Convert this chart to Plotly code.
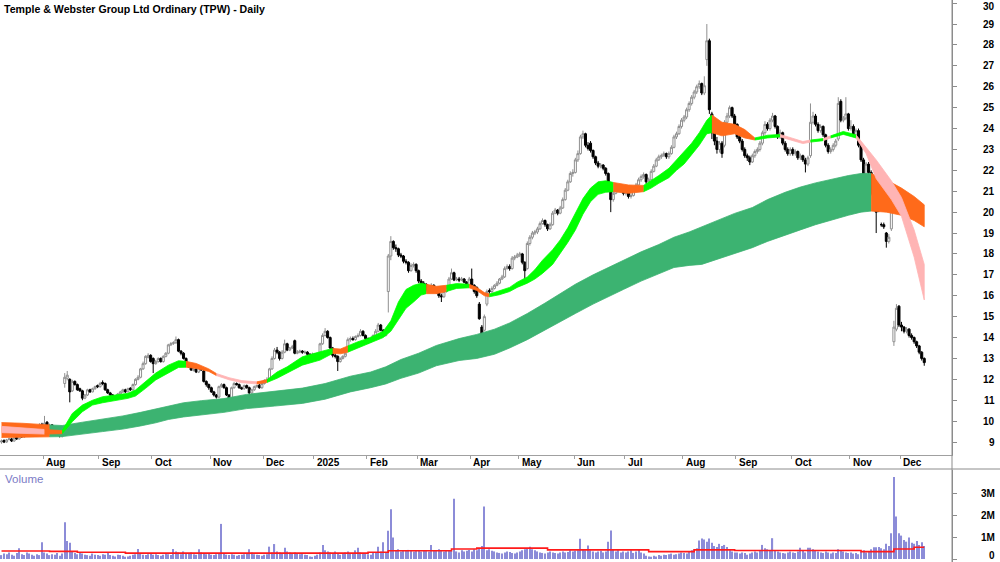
import pandas as pd
import plotly.graph_objects as go

TITLE = "Temple &amp; Webster Group Ltd Ordinary (TPW) - Daily"

HOLIDAYS = ["2024-12-25", "2024-12-26", "2025-01-01", "2025-01-27",
            "2025-04-18", "2025-04-21", "2025-04-25", "2025-06-09"]
FIRST_DAY = "2024-07-09"
LAST_DAY = "2025-12-12"

OPEN = [
    9.00, 9.08, 9.00, 9.12, 9.15, 9.05, 9.22, 9.15, 9.32, 9.25, 9.35, 9.48, 9.40, 9.62, 9.55, 9.70, 9.85,
    9.75, 9.95, 9.70, 9.82, 9.60, 9.58, 9.45, 9.28, 11.80, 12.05, 12.00, 11.45, 11.90, 11.75, 11.55, 11.45, 11.10, 11.25, 11.50, 11.40, 11.55, 11.70,
    11.65, 11.85, 11.80, 11.50, 11.35, 11.25, 11.18, 11.10, 11.30, 11.40, 11.50, 11.40, 11.58, 11.50, 11.75, 12.00, 12.10, 12.50, 12.75, 13.05, 13.15,
    13.00, 12.75, 12.85, 13.00, 12.85, 13.10, 13.25, 13.65, 13.72, 13.75, 13.90, 13.35, 13.25, 13.00, 12.75, 12.60, 12.42, 12.50, 12.35, 12.55, 12.40, 11.90, 11.75,
    11.60, 11.40, 11.25, 11.15, 11.65, 11.75, 11.60, 11.25, 11.10, 11.60, 11.80, 11.75, 11.60, 11.55, 11.70, 11.60, 11.35, 11.50, 11.65, 11.72, 11.60,
    11.80, 11.95, 12.00, 12.50, 13.00, 13.40, 13.30, 13.00, 13.30, 13.70, 13.40, 13.50, 13.85, 13.25, 13.30, 13.35, 13.28, 13.30, 13.20, 13.15,
    13.20, 13.10, 13.20, 13.70, 14.10, 14.30, 14.00, 13.50, 13.15, 13.10, 12.85, 13.00, 13.10, 13.40, 13.90, 13.95, 13.90, 14.05, 14.10, 14.30, 14.10,
    13.95, 13.80, 13.95, 14.10, 14.30, 14.60, 14.35, 14.10, 16.20, 17.90, 18.60, 18.30, 18.25, 17.95, 17.90, 17.65, 17.60, 17.20, 17.45, 17.50,
    17.20, 16.70, 16.60, 16.55, 16.30, 16.35, 16.50, 16.25, 16.20, 16.00, 15.95, 16.20, 16.40, 16.80, 17.10, 16.75, 16.80, 16.75, 16.80, 16.65, 16.50,
    16.80, 16.50, 16.40, 15.60, 14.50, 14.35, 15.60, 16.25, 16.20, 16.35, 16.50, 16.60, 16.80, 16.90, 17.30, 17.40, 17.30, 17.80, 17.85,
    17.95, 18.00, 17.60, 17.30, 18.50, 18.80, 19.00, 19.05, 19.20, 19.45, 19.60, 19.40, 19.20, 19.40, 19.95, 20.10, 19.95, 20.20, 20.60, 21.05, 21.45, 21.85,
    21.90, 22.50, 22.80, 23.60, 23.75, 23.20, 23.30, 22.95, 22.65, 22.35, 22.20, 22.25, 22.10, 21.85, 21.40, 20.60, 20.90, 21.05, 21.20, 21.15,
    20.90, 21.05, 20.75, 20.80, 21.15, 21.30, 21.55, 21.70, 21.80, 21.45, 21.55, 21.95, 22.20, 22.50, 22.65, 22.70, 22.80, 22.65, 22.80, 23.10, 23.60, 23.75, 24.10,
    24.40, 24.55, 24.90, 25.20, 25.50, 25.75, 26.00, 26.15, 25.70, 27.30, 28.20, 24.70, 23.80, 23.40, 23.00, 23.30, 23.20, 24.30, 24.60, 25.00, 24.60,
    24.20, 23.60, 23.40, 23.00, 22.70, 22.60, 22.40, 22.70, 22.90, 23.00, 23.30, 23.80, 24.20, 24.00, 24.40, 24.60, 24.10, 23.60, 23.80, 23.30, 23.00, 22.80,
    23.00, 22.80, 22.90, 22.60, 22.70, 22.50, 22.30, 22.70, 24.30, 24.60, 24.20, 23.90, 24.10, 23.70, 23.20, 22.90, 23.00, 23.20, 23.50, 25.30, 24.40, 24.50, 24.70,
    24.00, 24.10, 23.70, 23.90, 23.20, 22.50, 21.80, 22.30, 21.90, 20.90, 20.20, 20.90, 19.40, 19.40, 19.00, 18.60, 19.20, 13.80, 14.40, 15.50,
    14.60, 14.50, 14.30, 14.40, 14.10, 14.00, 13.80, 13.60, 13.30, 13.00,
]

HIGH = [
    9.12, 9.12, 9.15, 9.22, 9.20, 9.25, 9.28, 9.35, 9.38, 9.40, 9.50, 9.52, 9.66, 9.68, 9.75, 9.90, 9.92,
    10.25, 10.00, 9.88, 9.86, 9.68, 9.62, 9.50, 9.45, 12.30, 12.40, 12.05, 11.98, 11.95, 11.80, 11.60, 11.50, 11.30, 11.55, 11.55, 11.60, 11.70, 11.75,
    11.88, 11.95, 11.85, 11.55, 11.40, 11.30, 11.22, 11.35, 11.45, 11.55, 11.55, 11.60, 11.62, 11.80, 12.05, 12.20, 12.55, 12.85, 13.15, 13.25, 13.20,
    13.05, 12.92, 13.05, 13.05, 13.15, 13.30, 13.70, 13.78, 13.82, 14.05, 13.95, 13.40, 13.30, 13.05, 12.80, 12.65, 12.55, 12.55, 12.60, 12.60, 12.45, 11.95, 11.80,
    11.65, 11.45, 11.30, 11.70, 11.82, 11.80, 11.65, 11.30, 11.65, 11.88, 11.85, 11.80, 11.65, 11.75, 11.75, 11.65, 11.55, 11.70, 11.75, 11.78, 11.85,
    12.00, 12.10, 12.55, 13.10, 13.50, 13.55, 13.35, 13.40, 13.90, 13.75, 13.55, 13.65, 13.90, 13.40, 13.42, 13.40, 13.38, 13.35, 13.25, 13.28,
    13.25, 13.25, 13.75, 14.20, 14.45, 14.35, 14.05, 13.55, 13.25, 13.15, 13.05, 13.15, 13.30, 14.00, 14.05, 14.05, 14.10, 14.20, 14.40, 14.35, 14.15,
    14.00, 14.00, 14.15, 14.40, 14.70, 14.65, 14.40, 14.40, 18.00, 18.85, 18.65, 18.45, 18.30, 18.05, 17.95, 17.75, 17.65, 17.55, 17.60, 17.55,
    17.25, 16.80, 16.70, 16.60, 16.45, 16.60, 16.55, 16.35, 16.25, 16.10, 16.25, 16.45, 16.90, 17.30, 17.15, 16.90, 16.90, 16.90, 16.85, 16.70, 16.90,
    17.30, 16.55, 16.45, 15.70, 14.60, 15.10, 16.30, 16.35, 16.45, 16.55, 16.70, 16.85, 17.00, 17.40, 17.50, 17.50, 17.90, 17.95, 18.05,
    18.10, 18.05, 17.65, 18.60, 18.90, 19.10, 19.15, 19.30, 19.55, 19.70, 19.65, 19.45, 19.50, 20.05, 20.20, 20.15, 20.30, 20.70, 21.15, 21.55, 21.95, 22.05,
    22.60, 22.95, 23.70, 23.90, 23.80, 23.35, 23.40, 23.00, 22.70, 22.45, 22.35, 22.30, 22.15, 21.90, 21.45, 21.00, 21.15, 21.30, 21.30, 21.20,
    21.15, 21.10, 20.90, 21.25, 21.40, 21.65, 21.80, 21.90, 21.85, 21.65, 22.05, 22.30, 22.60, 22.75, 22.80, 22.90, 22.85, 22.90, 23.20, 23.70, 23.85, 24.20, 24.50,
    24.65, 25.00, 25.30, 25.60, 25.85, 26.10, 26.30, 26.20, 26.50, 29.00, 28.30, 24.80, 24.00, 23.60, 23.40, 23.40, 24.40, 24.75, 25.10, 25.05, 24.70,
    24.25, 23.75, 23.50, 23.10, 22.80, 22.70, 22.80, 23.00, 23.10, 23.40, 23.90, 24.35, 24.30, 24.50, 24.75, 24.65, 24.15, 23.95, 23.85, 23.40, 23.10, 23.10,
    23.10, 23.00, 22.95, 22.80, 22.75, 22.60, 22.70, 25.20, 24.80, 24.70, 24.30, 24.20, 24.15, 23.75, 23.30, 23.10, 23.30, 23.50, 25.50, 25.40, 24.60, 25.50, 24.75,
    24.40, 24.20, 24.00, 24.00, 23.30, 22.60, 22.40, 22.40, 22.00, 21.00, 20.70, 20.95, 19.50, 19.50, 19.05, 18.95, 20.40, 14.80, 15.60, 15.55,
    14.75, 14.55, 14.50, 14.45, 14.20, 14.05, 13.85, 13.65, 13.35, 13.05,
]

LOW = [
    8.92, 8.95, 8.97, 9.08, 9.00, 9.02, 9.10, 9.12, 9.20, 9.20, 9.30, 9.35, 9.36, 9.50, 9.50, 9.65, 9.70,
    9.70, 9.70, 9.65, 9.55, 9.48, 9.40, 9.22, 9.22, 11.60, 11.95, 10.90, 11.40, 11.70, 11.45, 11.40, 11.00, 11.05, 11.20, 11.35, 11.38, 11.50, 11.58,
    11.60, 11.72, 11.45, 11.30, 11.20, 11.10, 11.02, 11.05, 11.25, 11.35, 11.35, 11.38, 11.45, 11.45, 11.70, 11.95, 12.05, 12.45, 12.70, 13.00, 12.80,
    12.30, 12.70, 12.80, 12.80, 12.80, 13.05, 13.20, 13.60, 13.65, 13.70, 13.30, 13.15, 12.95, 12.70, 12.55, 12.40, 12.38, 12.30, 12.30, 12.40, 11.85, 11.65, 11.50,
    11.35, 11.18, 11.08, 11.10, 11.60, 11.55, 11.20, 10.95, 11.05, 11.55, 11.70, 11.55, 11.50, 11.50, 11.55, 11.25, 11.30, 11.45, 11.60, 11.55, 11.55,
    11.75, 11.90, 11.95, 12.45, 12.95, 13.20, 12.90, 12.95, 13.25, 13.35, 13.35, 13.45, 13.20, 13.20, 13.25, 13.22, 13.22, 13.12, 13.08, 13.10,
    13.02, 13.05, 13.15, 13.65, 14.05, 13.95, 13.45, 13.05, 13.00, 12.40, 12.80, 12.95, 13.05, 13.35, 13.80, 13.85, 13.85, 14.00, 14.05, 14.05, 13.85,
    13.70, 13.75, 13.90, 14.05, 14.25, 14.30, 14.05, 14.05, 15.20, 17.70, 18.20, 18.10, 17.85, 17.80, 17.55, 17.50, 17.10, 17.15, 17.35, 17.10,
    16.60, 16.50, 16.45, 16.20, 16.25, 16.30, 16.15, 16.10, 15.90, 15.70, 15.90, 16.15, 16.35, 16.75, 16.70, 16.70, 16.65, 16.70, 16.60, 16.40, 16.45,
    16.40, 16.10, 15.90, 14.85, 13.95, 14.30, 15.50, 16.10, 16.10, 16.30, 16.45, 16.55, 16.75, 16.85, 17.25, 17.20, 17.25, 17.70, 17.80,
    17.85, 17.50, 16.80, 17.25, 18.40, 18.70, 18.90, 18.95, 19.15, 19.40, 19.30, 19.10, 19.15, 19.35, 19.90, 19.85, 19.90, 20.15, 20.55, 21.00, 21.40, 21.70,
    21.85, 22.40, 22.75, 23.50, 23.10, 22.95, 22.85, 22.55, 22.25, 22.10, 22.10, 22.00, 21.75, 21.30, 20.00, 20.50, 20.85, 21.00, 21.05, 20.80,
    20.80, 20.65, 20.65, 20.75, 21.05, 21.25, 21.45, 21.60, 21.35, 21.40, 21.50, 21.90, 22.15, 22.45, 22.55, 22.65, 22.55, 22.55, 22.75, 23.05, 23.50, 23.70, 24.00,
    24.30, 24.45, 24.80, 25.10, 25.40, 25.65, 25.90, 25.60, 25.60, 27.00, 24.70, 23.50, 23.20, 22.80, 22.85, 22.60, 23.10, 24.20, 24.50, 24.50, 24.10,
    23.50, 23.30, 22.90, 22.60, 22.45, 22.25, 22.35, 22.60, 22.80, 22.90, 23.20, 23.70, 23.90, 23.90, 24.30, 24.00, 23.50, 23.50, 23.20, 22.90, 22.70, 22.70,
    22.70, 22.70, 22.50, 22.50, 22.40, 21.90, 22.20, 22.60, 24.20, 24.10, 23.80, 23.80, 23.60, 23.10, 22.80, 22.80, 22.90, 23.10, 23.40, 24.30, 24.30, 24.40, 23.90,
    23.90, 23.60, 23.60, 23.10, 22.40, 21.70, 21.70, 21.80, 20.80, 20.10, 19.00, 20.00, 19.30, 19.20, 18.30, 18.50, 19.10, 13.60, 14.30, 14.50,
    14.30, 14.20, 14.20, 14.00, 13.90, 13.70, 13.50, 13.20, 12.90, 12.65,
]

CLOSE = [
    9.05, 9.00, 9.10, 9.15, 9.05, 9.20, 9.15, 9.30, 9.25, 9.35, 9.45, 9.40, 9.60, 9.55, 9.70, 9.80, 9.75,
    9.90, 9.75, 9.80, 9.60, 9.55, 9.45, 9.30, 9.40, 12.10, 12.20, 11.40, 11.90, 11.75, 11.50, 11.45, 11.10, 11.25, 11.50, 11.40, 11.55, 11.65, 11.65,
    11.80, 11.80, 11.50, 11.35, 11.25, 11.15, 11.10, 11.30, 11.40, 11.50, 11.40, 11.55, 11.50, 11.75, 12.00, 12.10, 12.50, 12.75, 13.10, 13.15, 12.85,
    12.75, 12.85, 13.00, 12.85, 13.10, 13.25, 13.65, 13.70, 13.75, 13.90, 13.35, 13.25, 13.00, 12.75, 12.60, 12.45, 12.50, 12.35, 12.55, 12.45, 11.90, 11.75, 11.60,
    11.40, 11.25, 11.15, 11.65, 11.75, 11.60, 11.25, 11.10, 11.60, 11.80, 11.75, 11.60, 11.55, 11.70, 11.60, 11.35, 11.50, 11.65, 11.70, 11.60, 11.80,
    11.95, 12.00, 12.50, 13.00, 13.40, 13.30, 13.00, 13.30, 13.70, 13.40, 13.50, 13.55, 13.25, 13.30, 13.35, 13.30, 13.30, 13.20, 13.15, 13.20,
    13.10, 13.20, 13.70, 14.10, 14.30, 14.00, 13.50, 13.15, 13.10, 12.85, 13.00, 13.10, 13.25, 13.90, 13.95, 13.90, 14.05, 14.10, 14.30, 14.10, 13.95,
    13.80, 13.95, 14.10, 14.30, 14.60, 14.35, 14.10, 14.30, 17.90, 18.60, 18.30, 18.25, 17.95, 17.90, 17.65, 17.60, 17.20, 17.45, 17.50, 17.20,
    16.70, 16.60, 16.55, 16.30, 16.35, 16.50, 16.25, 16.20, 16.00, 15.95, 16.20, 16.40, 16.80, 17.10, 16.75, 16.80, 16.75, 16.80, 16.65, 16.50, 16.80,
    16.50, 16.20, 16.00, 14.90, 14.10, 15.00, 16.20, 16.20, 16.35, 16.50, 16.60, 16.80, 16.90, 17.30, 17.40, 17.30, 17.80, 17.85, 17.95,
    18.00, 17.60, 17.20, 18.50, 18.80, 19.00, 19.05, 19.20, 19.45, 19.60, 19.40, 19.20, 19.40, 19.95, 20.10, 19.95, 20.20, 20.60, 21.05, 21.45, 21.85, 21.90,
    22.50, 22.80, 23.60, 23.75, 23.20, 23.05, 22.95, 22.65, 22.35, 22.20, 22.25, 22.10, 21.85, 21.40, 20.60, 20.90, 21.05, 21.20, 21.15, 20.90,
    21.05, 20.75, 20.80, 21.15, 21.30, 21.55, 21.70, 21.80, 21.45, 21.55, 21.95, 22.20, 22.50, 22.65, 22.70, 22.80, 22.65, 22.80, 23.10, 23.60, 23.75, 24.10, 24.40,
    24.55, 24.90, 25.20, 25.50, 25.75, 26.00, 26.15, 25.70, 26.05, 28.20, 24.90, 23.80, 23.40, 23.00, 23.30, 22.80, 24.30, 24.60, 25.00, 24.60, 24.20,
    23.60, 23.40, 23.00, 22.70, 22.60, 22.40, 22.70, 22.90, 23.00, 23.30, 23.80, 24.20, 24.00, 24.40, 24.60, 24.10, 23.60, 23.80, 23.30, 23.00, 22.80, 23.00,
    22.80, 22.90, 22.60, 22.70, 22.50, 22.30, 22.60, 24.30, 24.60, 24.20, 23.90, 24.10, 23.70, 23.20, 22.90, 23.00, 23.20, 23.40, 25.20, 24.40, 24.50, 24.70, 24.00,
    24.10, 23.70, 23.90, 23.20, 22.50, 21.80, 22.30, 21.90, 20.90, 20.20, 20.00, 20.60, 19.40, 19.30, 18.60, 18.80, 20.20, 14.50, 15.40, 14.60,
    14.50, 14.30, 14.40, 14.10, 14.00, 13.80, 13.60, 13.30, 13.00, 12.80,
]

# volume in millions of shares
VOLUME = [
    0.18, 0.25, 0.22, 0.30, 0.20, 0.15, 0.28, 0.50, 0.22, 0.18, 0.30, 0.25, 0.20, 0.15, 0.22, 0.18, 0.77,
    0.30, 0.25, 0.18, 0.22, 0.20, 0.28, 0.15, 0.25, 1.70, 0.83, 0.75, 0.35, 0.28, 0.22, 0.30, 0.25, 0.20, 0.18, 0.15, 0.25, 0.20, 0.18,
    0.15, 0.22, 0.20, 0.28, 0.18, 0.15, 0.12, 0.20, 0.18, 0.15, 0.10, 0.12, 0.15, 0.20, 0.22, 0.46, 0.25, 0.20, 0.18, 0.22, 0.25,
    0.20, 0.22, 0.18, 0.15, 0.20, 0.25, 0.22, 0.18, 0.46, 0.35, 0.30, 0.22, 0.35, 0.28, 0.25, 0.30, 0.22, 0.20, 0.45, 0.30, 0.28, 0.22, 0.25,
    0.20, 0.18, 0.22, 0.25, 1.62, 0.25, 0.20, 0.18, 0.22, 0.20, 0.15, 0.18, 0.20, 0.22, 0.25, 0.45, 0.30, 0.22, 0.20, 0.18, 0.15,
    0.20, 0.22, 0.57, 0.30, 0.69, 0.35, 0.30, 0.28, 0.52, 0.35, 0.30, 0.25, 0.30, 0.28, 0.22, 0.25, 0.20, 0.18, 0.12, 0.10,
    0.15, 0.20, 0.30, 0.65, 0.40, 0.35, 0.30, 0.28, 0.35, 0.25, 0.20, 0.25, 0.30, 0.35, 0.28, 0.25, 0.40, 0.52, 0.30, 0.28, 0.25,
    0.22, 0.20, 0.28, 0.30, 0.57, 0.35, 0.77, 0.30, 1.30, 2.30, 0.99, 0.40, 0.45, 0.35, 0.40, 0.38, 0.42, 0.40, 0.35, 0.38,
    0.40, 0.35, 0.42, 0.38, 0.35, 0.65, 0.40, 0.38, 0.45, 0.40, 0.35, 0.38, 0.42, 0.40, 2.78, 0.35, 0.30, 0.40, 0.35, 0.38, 0.42,
    0.35, 0.45, 0.40, 0.50, 0.60, 2.42, 0.40, 0.45, 0.38, 0.35, 0.30, 0.28, 0.25, 0.30, 0.35, 0.32, 0.28, 0.25, 0.30,
    0.35, 0.40, 0.45, 0.50, 0.57, 0.45, 0.40, 0.35, 0.30, 0.28, 0.25, 0.30, 0.35, 0.30, 0.28, 0.25, 0.30, 0.35, 0.30, 0.32, 0.40, 0.35,
    0.38, 0.40, 0.93, 0.45, 0.40, 0.62, 0.40, 0.35, 0.30, 0.35, 0.38, 0.30, 0.35, 0.80, 1.31, 0.45, 0.35, 0.40, 0.30, 0.35,
    0.30, 0.35, 0.40, 0.28, 0.35, 0.45, 0.30, 0.25, 0.15, 0.12, 0.10, 0.15, 0.12, 0.18, 0.15, 0.20, 0.18, 0.22, 0.25, 0.20, 0.22, 0.25, 0.30,
    0.28, 0.25, 0.35, 0.40, 0.45, 0.50, 0.85, 0.95, 0.90, 0.80, 0.95, 0.75, 0.60, 0.55, 0.70, 0.60, 0.65, 0.55, 0.40, 0.35, 0.30,
    0.30, 0.25, 0.30, 0.28, 0.20, 0.25, 0.30, 0.35, 0.30, 0.40, 0.65, 0.50, 0.45, 0.40, 0.96, 0.40, 0.35, 0.30, 0.28, 0.25, 0.30, 0.35,
    0.30, 0.28, 0.35, 0.52, 0.40, 0.30, 0.52, 0.52, 0.45, 0.40, 0.35, 0.30, 0.28, 0.35, 0.30, 0.25, 0.30, 0.28, 0.45, 0.40, 0.35, 0.30, 0.28,
    0.30, 0.25, 0.28, 0.22, 0.35, 0.40, 0.30, 0.35, 0.45, 0.54, 0.54, 0.55, 0.50, 0.45, 0.70, 0.60, 1.19, 3.78, 1.96, 1.19,
    1.08, 0.88, 0.80, 0.99, 0.75, 0.70, 0.83, 0.65, 0.77, 0.60,
]

# volume average line: (start index, level in millions)
VOL_MA_IDX = [0, 19, 30, 49, 145, 153, 178, 188, 216, 256, 274, 290, 340, 353, 361, 365]
VOL_MA_VAL = [0.37, 0.35, 0.31, 0.27, 0.31, 0.38, 0.46, 0.50, 0.42, 0.34, 0.42, 0.39, 0.34, 0.46, 0.54, 0.54]

# short-term ribbon: trading-day index, lower edge, upper edge, colour code of the stretch that follows
S_IDX = [0, 10, 17, 24, 28, 32, 36, 40, 45, 50, 53, 57, 61, 66, 70, 73, 77, 82, 85, 90, 95, 101, 105, 109,
         113, 119, 126, 131, 134, 137, 141, 145, 151, 154, 157, 160, 163, 166, 168, 172, 176, 180, 185, 188,
         191, 193, 197, 201, 204, 208, 211, 214, 218, 221, 224, 227, 230, 233, 236, 239, 242, 248, 254, 257,
         260, 264, 267, 270, 273, 276, 279, 281, 285, 290, 294, 298, 303, 308, 313, 317, 320, 325, 328, 333,
         338, 342, 346, 352, 356, 361, 365]
S_LO = [9.45, 9.40, 9.38, 9.40, 9.97, 10.45, 10.77, 10.88, 11.00, 11.09, 11.20, 11.57, 11.97, 12.30, 12.57,
        12.58, 12.52, 12.38, 12.18, 11.98, 11.84, 11.78, 11.85, 12.05, 12.29, 12.68, 12.92, 13.24, 13.22, 13.30,
        13.50, 13.72, 14.00, 14.30, 14.85, 15.40, 15.70, 16.03, 16.10, 16.10, 16.20, 16.35, 16.38, 16.25, 16.00,
        15.95, 16.05, 16.20, 16.40, 16.60, 16.80, 17.07, 17.50, 18.03, 18.55, 19.14, 19.90, 20.50, 20.85, 20.95,
        20.98, 20.90, 20.98, 21.15, 21.38, 21.65, 22.00, 22.30, 22.75, 23.20, 23.75, 23.80, 23.65, 23.75, 23.55,
        23.45, 23.55, 23.60, 23.42, 23.28, 23.35, 23.42, 23.55, 23.72, 23.55, 22.80, 21.60, 20.60, 19.80, 17.85,
        15.80]
S_HI = [9.75, 9.65, 9.60, 9.55, 10.37, 10.77, 11.00, 11.17, 11.25, 11.33, 11.49, 11.90, 12.30, 12.68, 12.89,
        12.86, 12.76, 12.50, 12.28, 12.08, 11.94, 11.88, 11.98, 12.35, 12.60, 13.08, 13.32, 13.48, 13.45, 13.60,
        13.80, 13.96, 14.30, 14.80, 15.70, 16.30, 16.50, 16.60, 16.55, 16.45, 16.50, 16.58, 16.55, 16.40, 16.15,
        16.08, 16.25, 16.40, 16.65, 16.90, 17.25, 17.70, 18.20, 18.67, 19.25, 19.94, 20.65, 21.15, 21.45, 21.50,
        21.42, 21.30, 21.28, 21.50, 21.75, 22.10, 22.50, 22.85, 23.30, 23.80, 24.40, 24.65, 24.30, 24.20, 23.95,
        23.55, 23.68, 23.72, 23.52, 23.38, 23.45, 23.52, 23.65, 23.86, 23.70, 23.10, 22.50, 21.50, 20.70, 19.15,
        17.50]
S_COL = ["p", "p", "o", "g", "g", "g", "g", "g", "g", "g", "g", "g", "g", "g", "g", "o", "o", "o", "p", "p",
         "p", "o", "g", "g", "g", "g", "g", "o", "o", "g", "g", "g", "g", "g", "g", "g", "g", "g", "o", "o",
         "g", "g", "o", "o", "o", "g", "g", "g", "g", "g", "g", "g", "g", "g", "g", "g", "g", "g", "g", "g",
         "o", "o", "g", "g", "g", "g", "g", "g", "g", "g", "g", "o", "o", "o", "o", "g", "g", "p", "p", "p",
         "g", "p", "g", "g", "p", "p", "p", "p", "p", "p", "p"]

# long-term ribbon
L_IDX = [0, 8, 19, 24, 32, 40, 48, 55, 61, 66, 72, 79, 88, 97, 108, 119, 128, 138, 146, 152, 158, 165, 172,
         181, 188, 195, 201, 208, 215, 221, 227, 234, 240, 246, 253, 260, 266, 272, 277, 283, 290, 297, 303,
         310, 316, 322, 329, 335, 340, 344, 350, 356, 361, 365]
L_LO = [9.22, 9.23, 9.25, 9.26, 9.38, 9.50, 9.62, 9.77, 9.92, 10.08, 10.20, 10.30, 10.42, 10.60, 10.72, 10.85,
        11.05, 11.40, 11.60, 11.78, 12.05, 12.30, 12.65, 12.90, 13.00, 13.20, 13.50, 13.90, 14.35, 14.75, 15.15,
        15.60, 15.95, 16.30, 16.70, 17.05, 17.35, 17.45, 17.50, 17.75, 18.03, 18.30, 18.60, 18.90, 19.15, 19.40,
        19.65, 19.85, 20.00, 20.05, 20.00, 19.85, 19.60, 19.30]
L_HI = [9.93, 9.90, 9.82, 9.79, 9.95, 10.10, 10.25, 10.42, 10.58, 10.75, 10.88, 10.98, 11.08, 11.28, 11.42,
        11.58, 11.80, 12.15, 12.35, 12.60, 12.95, 13.25, 13.62, 13.95, 14.15, 14.40, 14.70, 15.15, 15.65, 16.10,
        16.55, 17.00, 17.35, 17.70, 18.10, 18.45, 18.80, 19.05, 19.30, 19.62, 19.94, 20.22, 20.60, 20.95, 21.20,
        21.40, 21.60, 21.75, 21.85, 21.85, 21.55, 21.15, 20.75, 20.35]
L_COL = ["o", "o"] + ["g"] * 47 + ["o"] * 5

PRICE_TICKS = list(range(9, 31))
VOL_TICKS = [0, 1, 2, 3]
VOL_TICK_TEXT = ["0", "1M", "2M", "3M"]

COLORS = {"g": "#00ff00", "o": "#ff6a1a", "p": "#ffb4b4"}
LONG_COLORS = {"g": "#3cb371", "o": "#ff6a1a", "p": "#ffb4b4"}

# ---------------------------------------------------------------------------
dates = pd.bdate_range(FIRST_DAY, LAST_DAY)
dates = dates[~dates.isin(pd.to_datetime(HOLIDAYS))]
n = len(dates)
assert n == len(CLOSE) == len(OPEN) == len(HIGH) == len(LOW) == len(VOLUME)
idx = list(range(n))

month_starts = [i for i in range(1, n) if dates[i].month != dates[i - 1].month]
month_labels = ["2025" if dates[i].month == 1 else dates[i].strftime("%b") for i in month_starts]

W, H = 1000, 562
PLOT_R = 952
X0 = -0.6
X1 = X0 + PLOT_R / 2.528
PRICE_BOTTOM = 455
BAND_BOTTOM = 469
VOL_TOP = 470
P_TOP, P_BOT = 30.15, 8.38
V_LO, V_HI = -0.138, 4.107
FONT = "Liberation Sans, Arial"


def py(ypx):
    return 1 - ypx / H


def price_px(p):
    return (P_TOP - p) / (P_TOP - P_BOT) * PRICE_BOTTOM


fig = go.Figure()


def segments(keys, cols):
    segs = []
    s = 0
    for k in range(1, len(keys)):
        if cols[k] != cols[s]:
            segs.append((s, k, cols[s]))
            s = k
    segs.append((s, len(keys) - 1, cols[s]))
    return segs


def draw_ribbon(keys, lo, hi, cols, palette):
    for s, e, c in segments(keys, cols):
        xs = keys[s:e + 1] + keys[s:e + 1][::-1]
        ys = hi[s:e + 1] + lo[s:e + 1][::-1]
        col = palette[c]
        fig.add_trace(go.Scatter(x=xs, y=ys, fill="toself", fillcolor=col, mode="lines",
                                 line=dict(color=col, width=0.8), hoverinfo="skip",
                                 xaxis="x", yaxis="y"))


draw_ribbon(L_IDX, L_LO, L_HI, L_COL, LONG_COLORS)
draw_ribbon(S_IDX, S_LO, S_HI, S_COL, COLORS)

fig.add_trace(go.Candlestick(
    x=idx, open=OPEN, high=HIGH, low=LOW, close=CLOSE,
    increasing=dict(fillcolor="#ffffff", line=dict(color="#8f8f8f", width=1)),
    decreasing=dict(fillcolor="#000000", line=dict(color="#000000", width=1)),
    whiskerwidth=0, xaxis="x", yaxis="y", hoverinfo="skip",
))

fig.add_trace(go.Bar(x=idx, y=VOLUME, marker=dict(color="#8c8cd8", line=dict(width=0)),
                     width=0.45, xaxis="x2", yaxis="y2", hoverinfo="skip"))
fig.add_trace(go.Scatter(x=VOL_MA_IDX, y=VOL_MA_VAL, mode="lines", line=dict(color="#ff1a1a", width=1.6, shape="hv"),
                         xaxis="x2", yaxis="y2", hoverinfo="skip"))

ann = []
ann.append(dict(text="<b>" + TITLE + "</b>", xref="paper", yref="paper", x=2 / PLOT_R, y=py(9),
                xanchor="left", yanchor="middle", showarrow=False,
                font=dict(family=FONT, size=10.6, color="#000000")))
for i, lab in zip(month_starts, month_labels):
    ann.append(dict(text="<b>" + lab + "</b>", xref="x", yref="paper", x=i - 0.5 + 0.4, y=py(462.5),
                    xanchor="left", yanchor="middle", showarrow=False,
                    font=dict(family=FONT, size=10, color="#000000")))
for t in PRICE_TICKS:
    ypx = max(price_px(t), 6.5)
    ann.append(dict(text="<b>%d</b>" % t, xref="paper", yref="paper", x=997 / PLOT_R, y=py(ypx),
                    xanchor="right", yanchor="middle", showarrow=False,
                    font=dict(family=FONT, size=10, color="#000000")))
for t, s in zip(VOL_TICKS, VOL_TICK_TEXT):
    ypx = H - (t - V_LO) / (V_HI - V_LO) * (H - VOL_TOP)
    ypx = min(ypx, 555.5)
    ann.append(dict(text="<b>%s</b>" % s, xref="paper", yref="paper", x=997 / PLOT_R, y=py(ypx),
                    xanchor="right", yanchor="middle", showarrow=False,
                    font=dict(family=FONT, size=10, color="#000000")))
ann.append(dict(text="Volume", xref="paper", yref="paper", x=3 / PLOT_R, y=py(478.5),
                xanchor="left", yanchor="middle", showarrow=False,
                font=dict(family=FONT, size=11.5, color="#7b7bc6")))

shapes = [
    dict(type="line", xref="paper", yref="paper", x0=0, x1=W / PLOT_R, y0=py(BAND_BOTTOM), y1=py(BAND_BOTTOM),
         line=dict(color="#8c8c8c", width=1)),
    dict(type="line", xref="paper", yref="paper", x0=1, x1=1, y0=0, y1=1,
         line=dict(color="#8c8c8c", width=1)),
]

fig.update_layout(
    width=W, height=H,
    margin=dict(l=0, r=W - PLOT_R, t=0, b=0),
    paper_bgcolor="#ffffff", plot_bgcolor="#ffffff",
    showlegend=False, boxgap=0.2, boxgroupgap=0,
    annotations=ann, shapes=shapes,
    xaxis=dict(domain=[0, 1], range=[X0, X1], anchor="y", showgrid=False, zeroline=False,
               showline=True, linecolor="#a0a0a0", linewidth=1,
               ticks="outside", ticklen=3, tickcolor="#a0a0a0",
               tickvals=[i - 0.5 for i in month_starts], showticklabels=False,
               rangeslider=dict(visible=False), fixedrange=True),
    xaxis2=dict(domain=[0, 1], range=[X0, X1], anchor="y2", showgrid=False, zeroline=False,
                showline=False, showticklabels=False, ticks=""),
    yaxis=dict(domain=[py(PRICE_BOTTOM), 1], range=[P_BOT, P_TOP], side="right", anchor="x",
               showgrid=False, zeroline=False, showline=True, linecolor="#8c8c8c",
               ticks="outside", ticklen=4, tickcolor="#8c8c8c", tickvals=PRICE_TICKS, showticklabels=False),
    yaxis2=dict(domain=[0, py(VOL_TOP)], range=[V_LO, V_HI], side="right", anchor="x2",
                showgrid=False, zeroline=False, showline=True, linecolor="#8c8c8c",
                ticks="outside", ticklen=4, tickcolor="#8c8c8c", tickvals=VOL_TICKS, showticklabels=False),
)

fig.write_html("out.html")
